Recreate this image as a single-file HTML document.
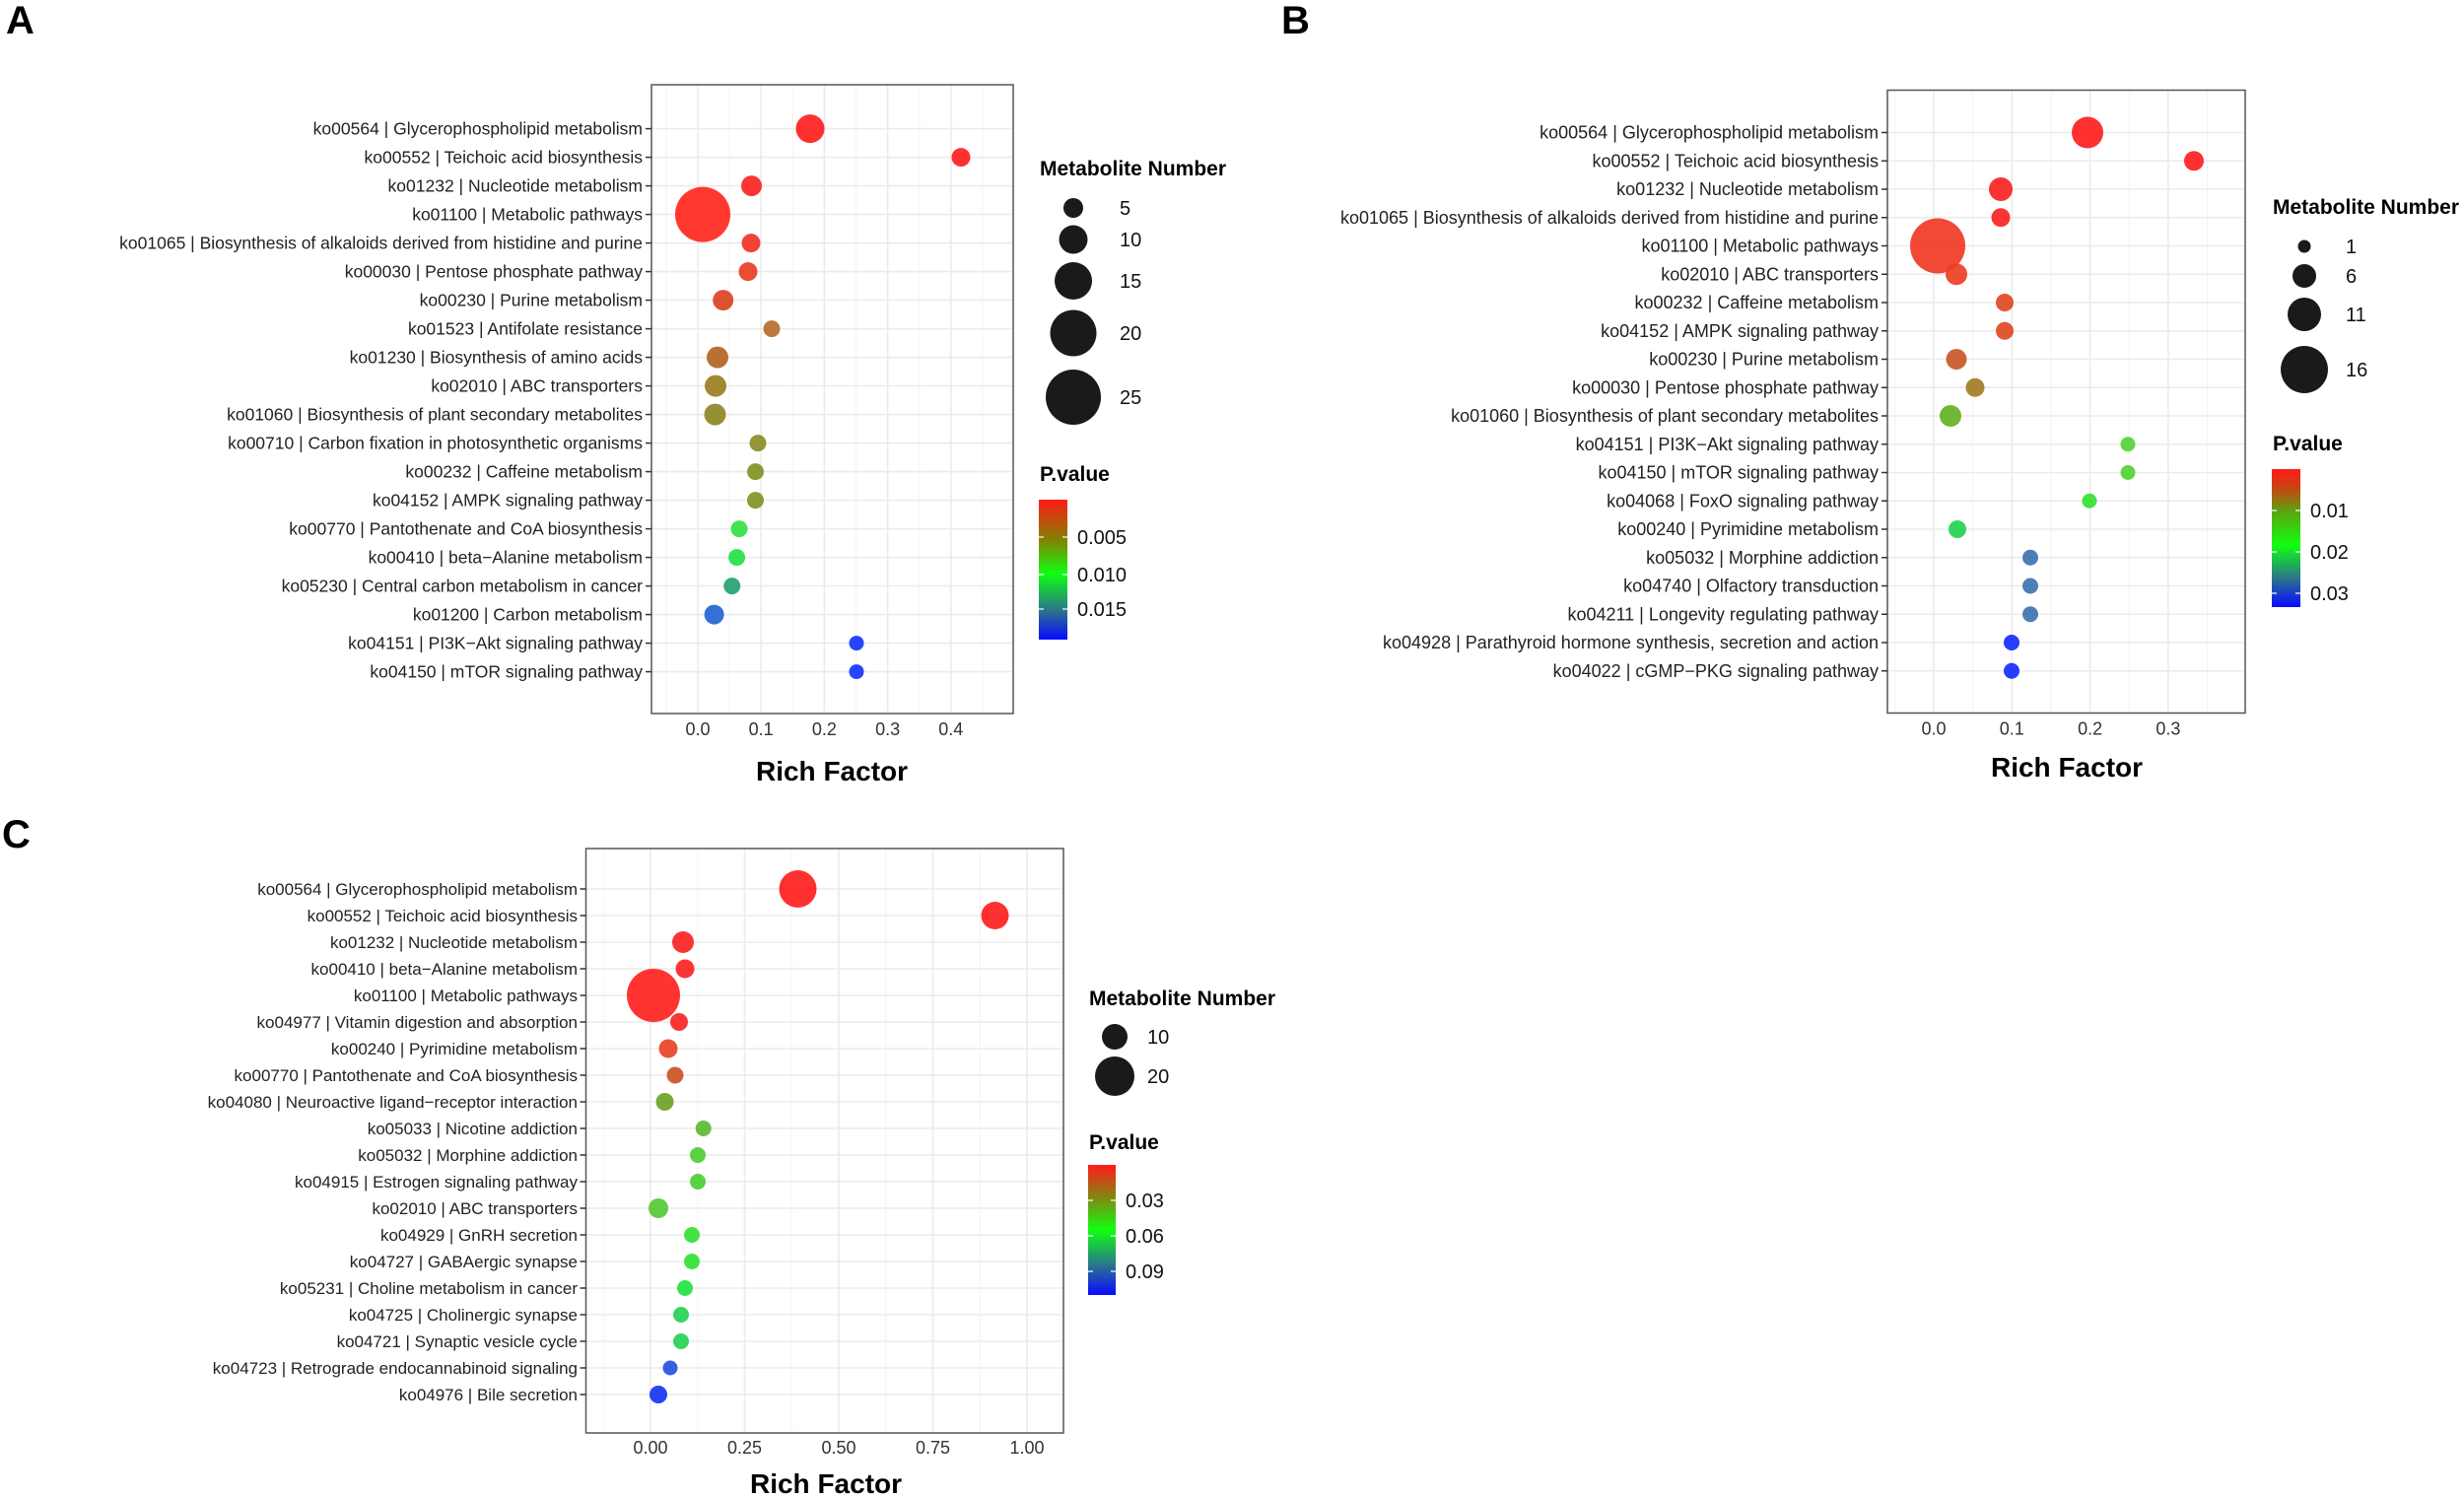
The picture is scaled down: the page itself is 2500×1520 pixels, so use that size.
<!DOCTYPE html>
<html><head><meta charset="utf-8"><style>
html,body{margin:0;padding:0;background:#fff}
svg{display:block}
text{font-family:"Liberation Sans",Arial,sans-serif}
.yl{font-size:18px;fill:#222;text-anchor:end}
.ya{font-size:17.5px;fill:#222;text-anchor:end}
.yc{font-size:17px;fill:#222;text-anchor:end}
.xl{font-size:18px;fill:#333;text-anchor:middle}
.rf{font-size:28px;font-weight:bold;text-anchor:middle;fill:#000}
.lt{font-size:21px;font-weight:bold;fill:#000}
.ll{font-size:20px;fill:#111}
.pl{font-weight:bold;fill:#000;font-size:40px}
.gM{stroke:#ebebeb;stroke-width:1.6}
.gm{stroke:#f2f2f2;stroke-width:0.9}
.box{fill:none;stroke:#555;stroke-width:1.5}
.tk{stroke:#333;stroke-width:1.5}
.pt circle{fill-opacity:0.9}
</style></head><body>
<svg width="2500" height="1520" viewBox="0 0 2500 1520" xmlns="http://www.w3.org/2000/svg">
<defs>
<linearGradient id="ga" x1="0" y1="0" x2="0" y2="1">
<stop offset="0" stop-color="#ff1a1a"/><stop offset="0.27" stop-color="#8a7a00"/><stop offset="0.53" stop-color="#10ff10"/><stop offset="0.8" stop-color="#2a7090"/><stop offset="1" stop-color="#0a0aff"/></linearGradient>
<linearGradient id="gb" x1="0" y1="0" x2="0" y2="1">
<stop offset="0" stop-color="#ff1a1a"/><stop offset="0.15" stop-color="#c04a10"/><stop offset="0.3" stop-color="#60a010"/><stop offset="0.55" stop-color="#10ff10"/><stop offset="0.8" stop-color="#2a7090"/><stop offset="1" stop-color="#0a0aff"/></linearGradient>
<linearGradient id="gc" x1="0" y1="0" x2="0" y2="1">
<stop offset="0" stop-color="#ff1a1a"/><stop offset="0.27" stop-color="#7a9010"/><stop offset="0.5" stop-color="#10ff10"/><stop offset="0.78" stop-color="#2a7090"/><stop offset="1" stop-color="#0a0aff"/></linearGradient>
</defs>

<text x="6" y="34" class="pl">A</text>
<text x="1300" y="34" class="pl">B</text>
<text x="2" y="860" class="pl">C</text>

<!-- ================= PANEL A ================= -->
<g transform="translate(-3,-4)">
<rect x="664" y="90" width="367" height="638" fill="#fff"/>
<g class="gm">
<line x1="679" y1="90" x2="679" y2="728"/><line x1="743.1" y1="90" x2="743.1" y2="728"/><line x1="807.3" y1="90" x2="807.3" y2="728"/><line x1="871.5" y1="90" x2="871.5" y2="728"/><line x1="935.7" y1="90" x2="935.7" y2="728"/><line x1="999.9" y1="90" x2="999.9" y2="728"/>
</g>
<g class="gM">
<line x1="711" y1="90" x2="711" y2="728"/><line x1="775.2" y1="90" x2="775.2" y2="728"/><line x1="839.4" y1="90" x2="839.4" y2="728"/><line x1="903.6" y1="90" x2="903.6" y2="728"/><line x1="967.8" y1="90" x2="967.8" y2="728"/>
<line x1="664" y1="134.6" x2="1031" y2="134.6"/><line x1="664" y1="163.6" x2="1031" y2="163.6"/><line x1="664" y1="192.6" x2="1031" y2="192.6"/><line x1="664" y1="221.6" x2="1031" y2="221.6"/><line x1="664" y1="250.6" x2="1031" y2="250.6"/><line x1="664" y1="279.6" x2="1031" y2="279.6"/><line x1="664" y1="308.6" x2="1031" y2="308.6"/><line x1="664" y1="337.6" x2="1031" y2="337.6"/><line x1="664" y1="366.6" x2="1031" y2="366.6"/><line x1="664" y1="395.6" x2="1031" y2="395.6"/><line x1="664" y1="424.6" x2="1031" y2="424.6"/><line x1="664" y1="453.6" x2="1031" y2="453.6"/><line x1="664" y1="482.6" x2="1031" y2="482.6"/><line x1="664" y1="511.6" x2="1031" y2="511.6"/><line x1="664" y1="540.6" x2="1031" y2="540.6"/><line x1="664" y1="569.6" x2="1031" y2="569.6"/><line x1="664" y1="598.6" x2="1031" y2="598.6"/><line x1="664" y1="627.6" x2="1031" y2="627.6"/><line x1="664" y1="656.6" x2="1031" y2="656.6"/><line x1="664" y1="685.6" x2="1031" y2="685.6"/>
</g>
<g class="pt">
<circle cx="825" cy="134.6" r="14.5" fill="#ff1a1a"/>
<circle cx="978" cy="163.6" r="9.5" fill="#ff1a1a"/>
<circle cx="765.5" cy="192.6" r="10.5" fill="#f8201f"/>
<circle cx="716" cy="221.6" r="28" fill="#ff2418"/>
<circle cx="765" cy="250.6" r="9.5" fill="#f03020"/>
<circle cx="762" cy="279.6" r="9.5" fill="#e83a20"/>
<circle cx="736.7" cy="308.6" r="10.5" fill="#d8401c"/>
<circle cx="786" cy="337.6" r="8.5" fill="#b86a28"/>
<circle cx="731" cy="366.6" r="11" fill="#b0601f"/>
<circle cx="729" cy="395.6" r="11" fill="#9a7a1c"/>
<circle cx="728.5" cy="424.6" r="11" fill="#8a8420"/>
<circle cx="772" cy="453.6" r="8.5" fill="#8a8c20"/>
<circle cx="769.5" cy="482.6" r="8.5" fill="#80901f"/>
<circle cx="769.5" cy="511.6" r="8.5" fill="#80901f"/>
<circle cx="753" cy="540.6" r="8.5" fill="#30e040"/>
<circle cx="750.6" cy="569.6" r="8.5" fill="#20e040"/>
<circle cx="745.7" cy="598.6" r="8.5" fill="#20a070"/>
<circle cx="727.6" cy="627.6" r="10" fill="#2060d0"/>
<circle cx="872" cy="656.6" r="7.5" fill="#1030ff"/>
<circle cx="872" cy="685.6" r="7.5" fill="#1030ff"/>
</g>
<rect x="664" y="90" width="367" height="638" class="box"/>
<g class="tk">
<line x1="658" y1="134.6" x2="664" y2="134.6"/><line x1="658" y1="163.6" x2="664" y2="163.6"/><line x1="658" y1="192.6" x2="664" y2="192.6"/><line x1="658" y1="221.6" x2="664" y2="221.6"/><line x1="658" y1="250.6" x2="664" y2="250.6"/><line x1="658" y1="279.6" x2="664" y2="279.6"/><line x1="658" y1="308.6" x2="664" y2="308.6"/><line x1="658" y1="337.6" x2="664" y2="337.6"/><line x1="658" y1="366.6" x2="664" y2="366.6"/><line x1="658" y1="395.6" x2="664" y2="395.6"/><line x1="658" y1="424.6" x2="664" y2="424.6"/><line x1="658" y1="453.6" x2="664" y2="453.6"/><line x1="658" y1="482.6" x2="664" y2="482.6"/><line x1="658" y1="511.6" x2="664" y2="511.6"/><line x1="658" y1="540.6" x2="664" y2="540.6"/><line x1="658" y1="569.6" x2="664" y2="569.6"/><line x1="658" y1="598.6" x2="664" y2="598.6"/><line x1="658" y1="627.6" x2="664" y2="627.6"/><line x1="658" y1="656.6" x2="664" y2="656.6"/><line x1="658" y1="685.6" x2="664" y2="685.6"/>
</g>
<g class="ya">
<text x="655" y="140.6">ko00564 | Glycerophospholipid metabolism</text>
<text x="655" y="169.6">ko00552 | Teichoic acid biosynthesis</text>
<text x="655" y="198.6">ko01232 | Nucleotide metabolism</text>
<text x="655" y="227.6">ko01100 | Metabolic pathways</text>
<text x="655" y="256.6">ko01065 | Biosynthesis of alkaloids derived from histidine and purine</text>
<text x="655" y="285.6">ko00030 | Pentose phosphate pathway</text>
<text x="655" y="314.6">ko00230 | Purine metabolism</text>
<text x="655" y="343.6">ko01523 | Antifolate resistance</text>
<text x="655" y="372.6">ko01230 | Biosynthesis of amino acids</text>
<text x="655" y="401.6">ko02010 | ABC transporters</text>
<text x="655" y="430.6">ko01060 | Biosynthesis of plant secondary metabolites</text>
<text x="655" y="459.6">ko00710 | Carbon fixation in photosynthetic organisms</text>
<text x="655" y="488.6">ko00232 | Caffeine metabolism</text>
<text x="655" y="517.6">ko04152 | AMPK signaling pathway</text>
<text x="655" y="546.6">ko00770 | Pantothenate and CoA biosynthesis</text>
<text x="655" y="575.6">ko00410 | beta−Alanine metabolism</text>
<text x="655" y="604.6">ko05230 | Central carbon metabolism in cancer</text>
<text x="655" y="633.6">ko01200 | Carbon metabolism</text>
<text x="655" y="662.6">ko04151 | PI3K−Akt signaling pathway</text>
<text x="655" y="691.6">ko04150 | mTOR signaling pathway</text>
</g>
<g class="xl">
<text x="711" y="750">0.0</text><text x="775.2" y="750">0.1</text><text x="839.4" y="750">0.2</text><text x="903.6" y="750">0.3</text><text x="967.8" y="750">0.4</text>
</g>
</g>
<text x="844" y="792" class="rf">Rich Factor</text>
<text x="1055" y="178" class="lt">Metabolite Number</text>
<g fill="#1a1a1a">
<circle cx="1089" cy="211" r="10"/><circle cx="1089" cy="243" r="14.5"/><circle cx="1089" cy="285" r="19"/><circle cx="1089" cy="338" r="23.5"/><circle cx="1089" cy="403" r="28"/>
</g>
<g class="ll">
<text x="1136" y="218">5</text><text x="1136" y="250">10</text><text x="1136" y="292">15</text><text x="1136" y="345">20</text><text x="1136" y="410">25</text>
</g>
<text x="1055" y="488" class="lt">P.value</text>
<rect x="1054" y="507" width="29" height="142" fill="url(#ga)"/>
<g stroke="#fff" stroke-width="1.2"><line x1="1054" y1="545" x2="1059" y2="545"/><line x1="1078" y1="545" x2="1083" y2="545"/><line x1="1054" y1="583" x2="1059" y2="583"/><line x1="1078" y1="583" x2="1083" y2="583"/><line x1="1054" y1="618" x2="1059" y2="618"/><line x1="1078" y1="618" x2="1083" y2="618"/></g>
<g class="ll"><text x="1093" y="552">0.005</text><text x="1093" y="590">0.010</text><text x="1093" y="625">0.015</text></g>

<!-- ================= PANEL B ================= -->
<g transform="translate(0,-3.5)">
<rect x="1915" y="95" width="363" height="632" fill="#fff"/>
<g class="gm">
<line x1="1922.4" y1="95" x2="1922.4" y2="727"/><line x1="2001.7" y1="95" x2="2001.7" y2="727"/><line x1="2081" y1="95" x2="2081" y2="727"/><line x1="2160.3" y1="95" x2="2160.3" y2="727"/><line x1="2239.6" y1="95" x2="2239.6" y2="727"/>
</g>
<g class="gM">
<line x1="1962" y1="95" x2="1962" y2="727"/><line x1="2041.3" y1="95" x2="2041.3" y2="727"/><line x1="2120.6" y1="95" x2="2120.6" y2="727"/><line x1="2199.9" y1="95" x2="2199.9" y2="727"/>
<line x1="1915" y1="138" x2="2278" y2="138"/><line x1="1915" y1="166.75" x2="2278" y2="166.75"/><line x1="1915" y1="195.5" x2="2278" y2="195.5"/><line x1="1915" y1="224.25" x2="2278" y2="224.25"/><line x1="1915" y1="253" x2="2278" y2="253"/><line x1="1915" y1="281.75" x2="2278" y2="281.75"/><line x1="1915" y1="310.5" x2="2278" y2="310.5"/><line x1="1915" y1="339.25" x2="2278" y2="339.25"/><line x1="1915" y1="368" x2="2278" y2="368"/><line x1="1915" y1="396.75" x2="2278" y2="396.75"/><line x1="1915" y1="425.5" x2="2278" y2="425.5"/><line x1="1915" y1="454.25" x2="2278" y2="454.25"/><line x1="1915" y1="483" x2="2278" y2="483"/><line x1="1915" y1="511.75" x2="2278" y2="511.75"/><line x1="1915" y1="540.5" x2="2278" y2="540.5"/><line x1="1915" y1="569.25" x2="2278" y2="569.25"/><line x1="1915" y1="598" x2="2278" y2="598"/><line x1="1915" y1="626.75" x2="2278" y2="626.75"/><line x1="1915" y1="655.5" x2="2278" y2="655.5"/><line x1="1915" y1="684.25" x2="2278" y2="684.25"/>
</g>
<g class="pt">
<circle cx="2118" cy="138" r="16" fill="#ff1a1a"/>
<circle cx="2226" cy="166.75" r="10" fill="#ff1a1a"/>
<circle cx="2030" cy="195.5" r="12" fill="#fa1e1e"/>
<circle cx="2030" cy="224.25" r="9.5" fill="#fa1e1e"/>
<circle cx="1966" cy="253" r="28" fill="#f03520"/>
<circle cx="1985" cy="281.75" r="11" fill="#ec3a20"/>
<circle cx="2034" cy="310.5" r="9" fill="#e0451e"/>
<circle cx="2034" cy="339.25" r="9" fill="#e0451e"/>
<circle cx="1985" cy="368" r="10.5" fill="#c85520"/>
<circle cx="2004" cy="396.75" r="9.5" fill="#a07a20"/>
<circle cx="1979" cy="425.5" r="11" fill="#60b020"/>
<circle cx="2159" cy="454.25" r="7.5" fill="#50d030"/>
<circle cx="2159" cy="483" r="7.5" fill="#50d030"/>
<circle cx="2120" cy="511.75" r="7.5" fill="#30e030"/>
<circle cx="1986" cy="540.5" r="9" fill="#20d050"/>
<circle cx="2060" cy="569.25" r="8" fill="#3a70b0"/>
<circle cx="2060" cy="598" r="8" fill="#3a70b0"/>
<circle cx="2060" cy="626.75" r="8" fill="#3a70b0"/>
<circle cx="2041" cy="655.5" r="8" fill="#1028ff"/>
<circle cx="2041" cy="684.25" r="8" fill="#1028ff"/>
</g>
<rect x="1915" y="95" width="363" height="632" class="box"/>
<g class="tk">
<line x1="1909" y1="138" x2="1915" y2="138"/><line x1="1909" y1="166.75" x2="1915" y2="166.75"/><line x1="1909" y1="195.5" x2="1915" y2="195.5"/><line x1="1909" y1="224.25" x2="1915" y2="224.25"/><line x1="1909" y1="253" x2="1915" y2="253"/><line x1="1909" y1="281.75" x2="1915" y2="281.75"/><line x1="1909" y1="310.5" x2="1915" y2="310.5"/><line x1="1909" y1="339.25" x2="1915" y2="339.25"/><line x1="1909" y1="368" x2="1915" y2="368"/><line x1="1909" y1="396.75" x2="1915" y2="396.75"/><line x1="1909" y1="425.5" x2="1915" y2="425.5"/><line x1="1909" y1="454.25" x2="1915" y2="454.25"/><line x1="1909" y1="483" x2="1915" y2="483"/><line x1="1909" y1="511.75" x2="1915" y2="511.75"/><line x1="1909" y1="540.5" x2="1915" y2="540.5"/><line x1="1909" y1="569.25" x2="1915" y2="569.25"/><line x1="1909" y1="598" x2="1915" y2="598"/><line x1="1909" y1="626.75" x2="1915" y2="626.75"/><line x1="1909" y1="655.5" x2="1915" y2="655.5"/><line x1="1909" y1="684.25" x2="1915" y2="684.25"/>
</g>
<g class="yl">
<text x="1906" y="144">ko00564 | Glycerophospholipid metabolism</text>
<text x="1906" y="172.75">ko00552 | Teichoic acid biosynthesis</text>
<text x="1906" y="201.5">ko01232 | Nucleotide metabolism</text>
<text x="1906" y="230.25">ko01065 | Biosynthesis of alkaloids derived from histidine and purine</text>
<text x="1906" y="259">ko01100 | Metabolic pathways</text>
<text x="1906" y="287.75">ko02010 | ABC transporters</text>
<text x="1906" y="316.5">ko00232 | Caffeine metabolism</text>
<text x="1906" y="345.25">ko04152 | AMPK signaling pathway</text>
<text x="1906" y="374">ko00230 | Purine metabolism</text>
<text x="1906" y="402.75">ko00030 | Pentose phosphate pathway</text>
<text x="1906" y="431.5">ko01060 | Biosynthesis of plant secondary metabolites</text>
<text x="1906" y="460.25">ko04151 | PI3K−Akt signaling pathway</text>
<text x="1906" y="489">ko04150 | mTOR signaling pathway</text>
<text x="1906" y="517.75">ko04068 | FoxO signaling pathway</text>
<text x="1906" y="546.5">ko00240 | Pyrimidine metabolism</text>
<text x="1906" y="575.25">ko05032 | Morphine addiction</text>
<text x="1906" y="604">ko04740 | Olfactory transduction</text>
<text x="1906" y="632.75">ko04211 | Longevity regulating pathway</text>
<text x="1906" y="661.5">ko04928 | Parathyroid hormone synthesis, secretion and action</text>
<text x="1906" y="690.25">ko04022 | cGMP−PKG signaling pathway</text>
</g>
<g class="xl">
<text x="1962" y="749">0.0</text><text x="2041.3" y="749">0.1</text><text x="2120.6" y="749">0.2</text><text x="2199.9" y="749">0.3</text>
</g>
</g>
<text x="2097" y="788" class="rf">Rich Factor</text>
<text x="2306" y="217" class="lt">Metabolite Number</text>
<g fill="#1a1a1a">
<circle cx="2338" cy="250" r="6.5"/><circle cx="2338" cy="280" r="12"/><circle cx="2338" cy="319" r="17"/><circle cx="2338" cy="375" r="24"/>
</g>
<g class="ll">
<text x="2380" y="257">1</text><text x="2380" y="287">6</text><text x="2380" y="326">11</text><text x="2380" y="382">16</text>
</g>
<text x="2306" y="457" class="lt">P.value</text>
<rect x="2305" y="476" width="29" height="140" fill="url(#gb)"/>
<g stroke="#fff" stroke-width="1.2"><line x1="2305" y1="518" x2="2310" y2="518"/><line x1="2329" y1="518" x2="2334" y2="518"/><line x1="2305" y1="560" x2="2310" y2="560"/><line x1="2329" y1="560" x2="2334" y2="560"/><line x1="2305" y1="602" x2="2310" y2="602"/><line x1="2329" y1="602" x2="2334" y2="602"/></g>
<g class="ll"><text x="2344" y="525">0.01</text><text x="2344" y="567">0.02</text><text x="2344" y="609">0.03</text></g>

<!-- ================= PANEL C ================= -->
<g transform="translate(-3,-3)">
<rect x="597.5" y="864" width="484.5" height="593" fill="#fff"/>
<g class="gm">
<line x1="615.3" y1="864" x2="615.3" y2="1457"/><line x1="710.8" y1="864" x2="710.8" y2="1457"/><line x1="806.3" y1="864" x2="806.3" y2="1457"/><line x1="901.8" y1="864" x2="901.8" y2="1457"/><line x1="997.3" y1="864" x2="997.3" y2="1457"/>
</g>
<g class="gM">
<line x1="663" y1="864" x2="663" y2="1457"/><line x1="758.5" y1="864" x2="758.5" y2="1457"/><line x1="854" y1="864" x2="854" y2="1457"/><line x1="949.5" y1="864" x2="949.5" y2="1457"/><line x1="1045" y1="864" x2="1045" y2="1457"/>
<line x1="597.5" y1="905" x2="1082" y2="905"/><line x1="597.5" y1="932" x2="1082" y2="932"/><line x1="597.5" y1="959" x2="1082" y2="959"/><line x1="597.5" y1="986" x2="1082" y2="986"/><line x1="597.5" y1="1013" x2="1082" y2="1013"/><line x1="597.5" y1="1040" x2="1082" y2="1040"/><line x1="597.5" y1="1067" x2="1082" y2="1067"/><line x1="597.5" y1="1094" x2="1082" y2="1094"/><line x1="597.5" y1="1121" x2="1082" y2="1121"/><line x1="597.5" y1="1148" x2="1082" y2="1148"/><line x1="597.5" y1="1175" x2="1082" y2="1175"/><line x1="597.5" y1="1202" x2="1082" y2="1202"/><line x1="597.5" y1="1229" x2="1082" y2="1229"/><line x1="597.5" y1="1256" x2="1082" y2="1256"/><line x1="597.5" y1="1283" x2="1082" y2="1283"/><line x1="597.5" y1="1310" x2="1082" y2="1310"/><line x1="597.5" y1="1337" x2="1082" y2="1337"/><line x1="597.5" y1="1364" x2="1082" y2="1364"/><line x1="597.5" y1="1391" x2="1082" y2="1391"/><line x1="597.5" y1="1418" x2="1082" y2="1418"/>
</g>
<g class="pt">
<circle cx="812.5" cy="905" r="19" fill="#ff1a1a"/>
<circle cx="1012.5" cy="932" r="14" fill="#ff1a1a"/>
<circle cx="696" cy="959" r="11" fill="#fa1e1e"/>
<circle cx="698" cy="986" r="9.5" fill="#fa1e1e"/>
<circle cx="666" cy="1013" r="27" fill="#ff1e1a"/>
<circle cx="692" cy="1040" r="9" fill="#f82020"/>
<circle cx="681" cy="1067" r="9.5" fill="#e84020"/>
<circle cx="688" cy="1094" r="8.5" fill="#c85020"/>
<circle cx="677.5" cy="1121" r="9" fill="#6aa020"/>
<circle cx="716.7" cy="1148" r="8" fill="#58b830"/>
<circle cx="711" cy="1175" r="8" fill="#48cc30"/>
<circle cx="711" cy="1202" r="8" fill="#48cc30"/>
<circle cx="671" cy="1229" r="10" fill="#50c830"/>
<circle cx="705" cy="1256" r="8" fill="#30e030"/>
<circle cx="705" cy="1283" r="8" fill="#30e030"/>
<circle cx="698" cy="1310" r="8" fill="#20e040"/>
<circle cx="694" cy="1337" r="8" fill="#20d050"/>
<circle cx="694" cy="1364" r="8" fill="#20d050"/>
<circle cx="683" cy="1391" r="7.5" fill="#2050e0"/>
<circle cx="671" cy="1418" r="9" fill="#1030f0"/>
</g>
<rect x="597.5" y="864" width="484.5" height="593" class="box"/>
<g class="tk">
<line x1="591.5" y1="905" x2="597.5" y2="905"/><line x1="591.5" y1="932" x2="597.5" y2="932"/><line x1="591.5" y1="959" x2="597.5" y2="959"/><line x1="591.5" y1="986" x2="597.5" y2="986"/><line x1="591.5" y1="1013" x2="597.5" y2="1013"/><line x1="591.5" y1="1040" x2="597.5" y2="1040"/><line x1="591.5" y1="1067" x2="597.5" y2="1067"/><line x1="591.5" y1="1094" x2="597.5" y2="1094"/><line x1="591.5" y1="1121" x2="597.5" y2="1121"/><line x1="591.5" y1="1148" x2="597.5" y2="1148"/><line x1="591.5" y1="1175" x2="597.5" y2="1175"/><line x1="591.5" y1="1202" x2="597.5" y2="1202"/><line x1="591.5" y1="1229" x2="597.5" y2="1229"/><line x1="591.5" y1="1256" x2="597.5" y2="1256"/><line x1="591.5" y1="1283" x2="597.5" y2="1283"/><line x1="591.5" y1="1310" x2="597.5" y2="1310"/><line x1="591.5" y1="1337" x2="597.5" y2="1337"/><line x1="591.5" y1="1364" x2="597.5" y2="1364"/><line x1="591.5" y1="1391" x2="597.5" y2="1391"/><line x1="591.5" y1="1418" x2="597.5" y2="1418"/>
</g>
<g class="yc">
<text x="589" y="911">ko00564 | Glycerophospholipid metabolism</text>
<text x="589" y="938">ko00552 | Teichoic acid biosynthesis</text>
<text x="589" y="965">ko01232 | Nucleotide metabolism</text>
<text x="589" y="992">ko00410 | beta−Alanine metabolism</text>
<text x="589" y="1019">ko01100 | Metabolic pathways</text>
<text x="589" y="1046">ko04977 | Vitamin digestion and absorption</text>
<text x="589" y="1073">ko00240 | Pyrimidine metabolism</text>
<text x="589" y="1100">ko00770 | Pantothenate and CoA biosynthesis</text>
<text x="589" y="1127">ko04080 | Neuroactive ligand−receptor interaction</text>
<text x="589" y="1154">ko05033 | Nicotine addiction</text>
<text x="589" y="1181">ko05032 | Morphine addiction</text>
<text x="589" y="1208">ko04915 | Estrogen signaling pathway</text>
<text x="589" y="1235">ko02010 | ABC transporters</text>
<text x="589" y="1262">ko04929 | GnRH secretion</text>
<text x="589" y="1289">ko04727 | GABAergic synapse</text>
<text x="589" y="1316">ko05231 | Choline metabolism in cancer</text>
<text x="589" y="1343">ko04725 | Cholinergic synapse</text>
<text x="589" y="1370">ko04721 | Synaptic vesicle cycle</text>
<text x="589" y="1397">ko04723 | Retrograde endocannabinoid signaling</text>
<text x="589" y="1424">ko04976 | Bile secretion</text>
</g>
<g class="xl">
<text x="663" y="1478">0.00</text><text x="758.5" y="1478">0.25</text><text x="854" y="1478">0.50</text><text x="949.5" y="1478">0.75</text><text x="1045" y="1478">1.00</text>
</g>
</g>
<text x="838" y="1515" class="rf">Rich Factor</text>
<text x="1105" y="1020" class="lt">Metabolite Number</text>
<g fill="#1a1a1a"><circle cx="1131" cy="1052" r="13"/><circle cx="1131" cy="1092" r="20"/></g>
<g class="ll"><text x="1164" y="1059">10</text><text x="1164" y="1099">20</text></g>
<text x="1105" y="1166" class="lt">P.value</text>
<rect x="1104" y="1182" width="28" height="132" fill="url(#gc)"/>
<g stroke="#fff" stroke-width="1.2"><line x1="1104" y1="1218" x2="1109" y2="1218"/><line x1="1127" y1="1218" x2="1132" y2="1218"/><line x1="1104" y1="1254" x2="1109" y2="1254"/><line x1="1127" y1="1254" x2="1132" y2="1254"/><line x1="1104" y1="1290" x2="1109" y2="1290"/><line x1="1127" y1="1290" x2="1132" y2="1290"/></g>
<g class="ll"><text x="1142" y="1225">0.03</text><text x="1142" y="1261">0.06</text><text x="1142" y="1297">0.09</text></g>
</svg>
</body></html>
